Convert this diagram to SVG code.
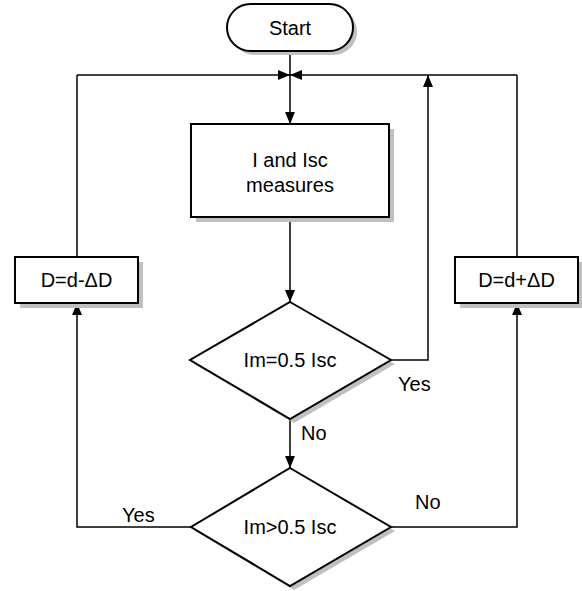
<svg xmlns="http://www.w3.org/2000/svg" width="582" height="591" viewBox="0 0 582 591">
<style>
.shape{fill:#fff;stroke:#000;stroke-width:2}
.shadow{fill:#c0c0c0;stroke:none}
.line{fill:none;stroke:#000;stroke-width:1.5}
text{font-family:"Liberation Sans",Arial,sans-serif;font-size:20px;fill:#000}
.c{text-anchor:middle}
</style>
<defs>
<marker id="arr" viewBox="0 0 12 10" refX="12" refY="5" markerWidth="12" markerHeight="10" markerUnits="userSpaceOnUse" orient="auto">
<path d="M0,0 L12,5 L0,10 Z" fill="#000"/>
</marker>
</defs>
<rect width="582" height="591" fill="#fff"/>
<g id="connectors">
<path class="line" d="M290,51 V124" marker-end="url(#arr)"/>
<path class="line" d="M77,75 H290" marker-end="url(#arr)"/>
<path class="line" d="M517,75 H290" marker-end="url(#arr)"/>
<path class="line" d="M290,217 V302" marker-end="url(#arr)"/>
<path class="line" d="M391,360 H428 V75" marker-end="url(#arr)"/>
<path class="line" d="M290,419 V468" marker-end="url(#arr)"/>
<path class="line" d="M191,527 H77 V303" marker-end="url(#arr)"/>
<path class="line" d="M391,527 H517 V303" marker-end="url(#arr)"/>
<path class="line" d="M77,257 V75"/>
<path class="line" d="M517,257 V75"/>
</g>
<g id="start">
<rect class="shadow" x="231" y="8" width="126" height="47" rx="23.5" ry="23.5"/>
<rect class="shape" x="227" y="4" width="126" height="47" rx="23.5" ry="23.5"/>
<text class="c" x="290" y="35">Start</text>
</g>
<g id="measure">
<rect class="shadow" x="196" y="129" width="198" height="93"/>
<rect class="shape" x="191" y="124" width="198" height="93"/>
<text class="c" x="290" y="167">I and Isc</text>
<text class="c" x="290" y="192">measures</text>
</g>
<g id="dec1">
<path class="shadow" d="M294,306 L395,364 L294,423 L194,364 Z"/>
<path class="shape" d="M290,302 L391,360 L290,419 L190,360 Z"/>
<text class="c" x="290" y="367">Im=0.5 Isc</text>
</g>
<g id="dec2">
<path class="shadow" d="M294,472 L395,531 L294,590 L195,531 Z"/>
<path class="shape" d="M290,468 L391,527 L290,586 L191,527 Z"/>
<text class="c" x="290" y="534">Im&gt;0.5 Isc</text>
</g>
<g id="dminus">
<rect class="shadow" x="20" y="262" width="123" height="46"/>
<rect class="shape" x="15" y="257" width="123" height="46"/>
<text class="c" x="76.5" y="287">D=d-ΔD</text>
</g>
<g id="dplus">
<rect class="shadow" x="460" y="262" width="123" height="46"/>
<rect class="shape" x="455" y="257" width="123" height="46"/>
<text class="c" x="516.5" y="287">D=d+ΔD</text>
</g>
<g id="labels">
<text x="398" y="391">Yes</text>
<text x="301" y="440">No</text>
<text x="122" y="522">Yes</text>
<text x="415" y="509">No</text>
</g>
</svg>
